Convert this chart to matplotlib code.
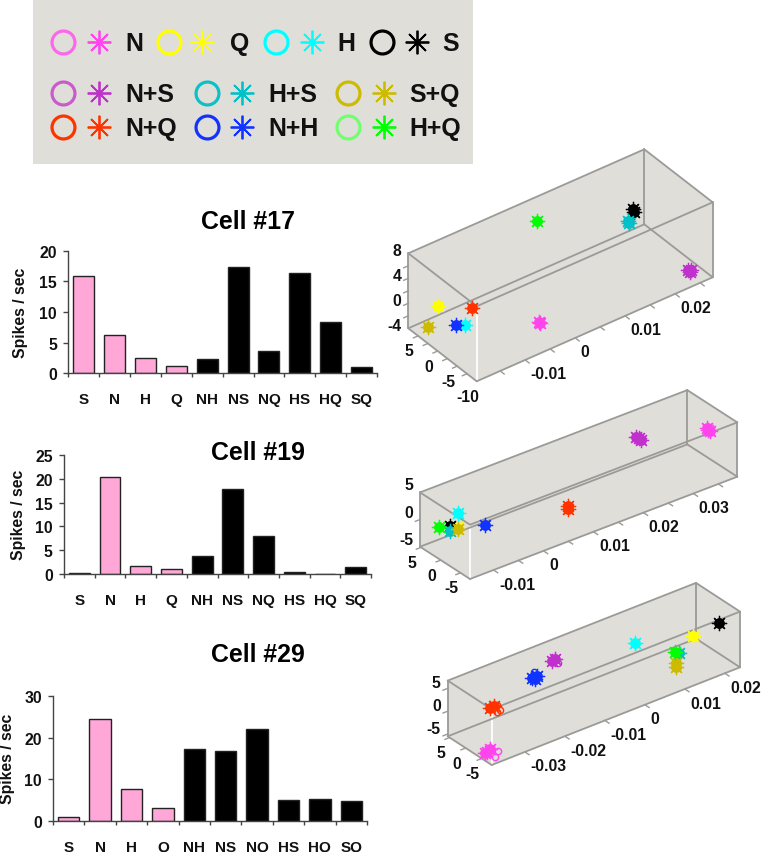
import numpy as np
import matplotlib
matplotlib.use("Agg")
import matplotlib.pyplot as plt

plt.rcParams['font.family'] = ['Liberation Sans', 'DejaVu Sans']
plt.rcParams['font.weight'] = 'bold'

W, H = 761, 853

# bar charts
categorias = ['S', 'N', 'H', 'Q', 'NH', 'NS', 'NQ', 'HS', 'HQ', 'SQ']
cell17 = [15.8, 6.3, 2.5, 1.2, 2.4, 17.3, 3.7, 16.3, 8.4, 1.0]
cell19 = [0.3, 20.3, 1.7, 1.0, 3.8, 17.9, 8.0, 0.5, 0.0, 1.5]
cell29 = [1.0, 24.6, 7.6, 3.2, 17.3, 16.8, 22.0, 5.1, 5.2, 4.9]
ticks17 = [0, 5, 10, 15, 20]
ticks19 = [0, 5, 10, 15, 20, 25]
ticks29 = [0, 10, 20, 30]

# 3D clusters, one entry per condition
conds = ['N', 'Q', 'H', 'S', 'N+S', 'H+S', 'S+Q', 'N+Q', 'N+H', 'H+Q']
x17 = [-0.0043, -0.0164, -0.0153, 0.0185, 0.0243, 0.0175, -0.0184, -0.0124, -0.0170, 0.0047]
y17 = [-6.5, 4.0, -1.25, -1.25, -8.25, -1.25, 4.0, 0.5, -1.25, 5.75]
z17 = [-1.8, 0.18, -0.73, 5.45, -2.93, 3.99, -2.49, 0.0, -0.13, 5.46]

x19 = [0.0380, -0.0110, -0.0090, -0.0127, 0.0241, -0.0127, -0.0110, 0.0100, -0.0066, -0.0139]
y19 = [-1.07, 0.2, 2.73, 0.2, -1.07, 0.2, 0.2, -1.07, -1.07, 1.46]
z19 = [0.89, -0.35, 0.39, 0.43, 4.24, -0.49, -0.6, -3.28, -0.84, 0.07]

x29 = [-0.0361, 0.0176, 0.0052, 0.0230, -0.0154, 0.0118, 0.0111, -0.0354, -0.0226, 0.0108]
y29 = [-4.0, -1.25, 1.49, -2.62, 1.49, -4.0, -4.0, -4.0, -1.25, -4.0]
z29 = [-5.2, 0.42, 1.83, 1.97, 4.88, -0.21, -2.13, 4.0, 4.96, 0.51]

# second points of the clusters that are spread out
mais17_cond = ['S', 'N+S', 'N+S', 'H+S', 'N']
mais17_x = [0.0183, 0.0240, 0.0246, 0.0173, -0.0045]
mais17_y = [-1.25, -8.25, -8.25, -1.25, -6.5]
mais17_z = [5.9, -2.4, -2.6, 4.3, -1.5]

mais19_cond = ['N', 'N', 'N+S', 'N+S', 'N+Q']
mais19_x = [0.0378, 0.0383, 0.0236, 0.0246, 0.0100]
mais19_y = [-1.07, -1.07, -1.07, -1.07, -1.07]
mais19_z = [1.3, 0.6, 4.6, 3.8, -3.7]

mais29_cond = ['N', 'N', 'N+Q', 'N+H', 'N+H', 'N+S', 'S+Q']
mais29_x = [-0.0355, -0.0366, -0.0345, -0.0220, -0.0214, -0.0148, 0.0111]
mais29_y = [-4.0, -4.0, -4.0, -1.25, -1.25, 1.49, -4.0]
mais29_z = [-4.9, -5.4, 4.2, 4.5, 5.1, 5.2, -2.9]

# isolated open circles in cell 29
extra_cond = ['N', 'N', 'N+Q', 'N+Q', 'N+Q', 'N+H', 'N+S']
extra_x = [-0.0344, -0.0364, -0.0336, -0.0337, -0.0329, -0.0222, -0.0139]
extra_y = [-5.36, -6.73, -4.0, -4.0, -4.0, -1.25, 1.49]
extra_z = [-5.1, -5.1, 4.2, 2.58, 2.82, 6.13, 4.05]

cor = {'N': '#FF44EE', 'Q': '#FFFF00', 'H': '#00FFFF', 'S': '#000000',
       'N+S': '#C030CC', 'H+S': '#00C0C8', 'S+Q': '#CCBB00',
       'N+Q': '#FF3300', 'N+H': '#1133FF', 'H+Q': '#00FF00'}
cor_circ = dict(cor)
cor_circ.update({'N': '#FF66EE', 'N+S': '#C95CCB', 'H+S': '#10BFC5', 'H+Q': '#70FF70'})

CINZA = '#E0DED8'
LINHA = '#9A9A98'
TEXTO = '#111111'

fig = plt.figure(figsize=(W / 100, H / 100), dpi=100)
bg = fig.add_axes([0, 0, 1, 1])
bg.set_xlim(0, W)
bg.set_ylim(H, 0)
bg.axis('off')


# legend box
bg.fill([33, 473, 473, 33], [0, 0, 165, 165], color=CINZA, lw=0)


def item(cond, xc, xs, xt, y):
    bg.plot(xc, y, 'o', ms=16.5, mfc='none', mec=cor_circ[cond], mew=2.3)
    bg.plot(xs, y, marker=(8, 2, 0), ms=17, mec=cor[cond], mew=1.3, ls='')
    bg.text(xt, y + 1, cond, fontsize=17.9, color=TEXTO, va='center', ha='left')


item('N', 63, 99, 125, 43)
item('Q', 169, 202, 230, 43)
item('H', 276, 312, 337, 43)
item('S', 382, 417, 442, 43)
item('N+S', 63, 99, 125, 94)
item('H+S', 207, 242, 268, 94)
item('S+Q', 348, 384, 409, 94)
item('N+Q', 63, 99, 125, 128)
item('N+H', 207, 242, 268, 128)
item('H+Q', 348, 384, 409, 128)


def barras(vals, yticks, x0, x1, ytop, ybot, titulo, tx, ty, lx, ly):
    ax = fig.add_axes([x0 / W, 1 - ybot / H, (x1 - x0) / W, (ybot - ytop) / H])
    ax.patch.set_alpha(0)
    pos = np.arange(len(vals))
    cores = ['#FFA8D8'] * 4 + ['#000000'] * 6
    ax.bar(pos, vals, width=0.68, color=cores, edgecolor='#222222', linewidth=1)
    ax.set_xlim(-0.5, 9.5)
    ax.set_ylim(yticks[0], yticks[-1])
    ax.set_yticks(yticks)
    ax.set_xticks(np.arange(-0.5, 10, 1))
    ax.set_xticklabels([])
    ax.set_xticks(pos, minor=True)
    ax.set_xticklabels(categorias, minor=True)
    ax.tick_params(axis='x', which='minor', length=0, pad=13.5, labelsize=11, labelcolor=TEXTO)
    ax.tick_params(axis='x', which='major', length=3, width=1, color='#444444')
    ax.tick_params(axis='y', length=3.6, width=1, color='#444444', pad=4.5, labelsize=11.3, labelcolor=TEXTO)
    for s in ['top', 'right']:
        ax.spines[s].set_visible(False)
    for s in ['left', 'bottom']:
        ax.spines[s].set_color('#444444')
        ax.spines[s].set_linewidth(1)
    bg.text(tx, ty, titulo, fontsize=17.9, color='black', ha='center', va='center')
    bg.text(lx, ly, 'Spikes / sec', fontsize=11.3, color=TEXTO, rotation=90, ha='center', va='center')


barras(cell17, ticks17, 68.3, 377, 251.7, 374.3, 'Cell #17', 248, 222, 20.7, 313)
barras(cell19, ticks19, 64, 371, 456, 575, 'Cell #19', 258, 453, 19, 515)
barras(cell29, ticks29, 53, 367, 697, 822, 'Cell #29', 258, 655, 7.3, 759)


def caixa(near, xv, yv, zv, xr, yr, zr, xt, xl, yt, yl, zt, zl, pts, mais, zdy):
    near, xv, yv, zv = [np.array(v, float) for v in (near, xv, yv, zv)]

    def proj(a, b, c):
        return (near + (a - xr[0]) / (xr[1] - xr[0]) * xv
                + (b - yr[0]) / (yr[1] - yr[0]) * yv
                + (c - zr[0]) / (zr[1] - zr[0]) * zv)

    def seg(p, q, **kw):
        bg.plot([p[0], q[0]], [p[1], q[1]], **kw)

    o = near
    cantos = [o, o + xv, o + xv + zv, o + xv + yv + zv, o + yv + zv, o + yv]
    bg.fill([c[0] for c in cantos], [c[1] for c in cantos], color=CINZA, lw=0)
    seg(o, o + zv, color='white', lw=1.3)
    arestas = [(o, o + xv), (o + xv, o + xv + zv), (o + xv + zv, o + zv),
               (o + xv + zv, o + xv + yv + zv), (o + xv + yv + zv, o + yv + zv),
               (o + yv + zv, o + zv), (o + yv + zv, o + yv), (o + yv, o),
               (o + yv, o + yv + xv), (o + yv + xv, o + xv),
               (o + yv + xv, o + xv + yv + zv)]
    for p, q in arestas:
        seg(p, q, color=LINHA, lw=1.3, solid_capstyle='round')

    dx = xv / np.linalg.norm(xv)
    dy = yv / np.linalg.norm(yv)
    for t in xt:
        p = proj(t, yr[0], zr[0])
        seg(p, p - dy * 5, color=LINHA, lw=1)
    for t in xl:
        p = proj(t, yr[0], zr[0])
        bg.text(p[0] + 5.5, p[1] + 14, f'{t:g}', fontsize=11.3, color=TEXTO, ha='left', va='center')
    for t in yt:
        p = proj(xr[0], t, zr[0])
        seg(p, p - dx * 5, color=LINHA, lw=1)
    for t in yl:
        p = proj(xr[0], t, zr[0])
        bg.text(p[0] - 9, p[1] + 15, f'{t:g}', fontsize=11.3, color=TEXTO, ha='center', va='center')
    for t in zt:
        p = proj(xr[0], yr[1], t)
        seg(p, p - dx * 5, color=LINHA, lw=1)
    for t in zl:
        p = proj(xr[0], yr[1], t)
        bg.text(p[0] - 7, p[1] - zdy, f'{t:g}', fontsize=11.3, color=TEXTO, ha='right', va='center')

    for c, a, b, d in list(zip(conds, *pts)) + list(zip(*mais)):
        p = proj(a, b, d)
        bg.plot(p[0], p[1], 'o', ms=7.8, color=cor[c], mew=0, zorder=5)
        bg.plot(p[0], p[1], marker=(8, 2, 0), ms=11, mec=cor[c], mew=0.9, ls='', zorder=5)
    return proj


caixa((476.7, 382.3), (236, -104), (-68.4, -53), (0, -75),
      (-0.0197, 0.0275), (-10, 7.5), (-4, 8),
      [-0.015, -0.01, -0.005, 0, 0.005, 0.01, 0.015, 0.02, 0.025], [-0.01, 0, 0.01, 0.02],
      [-7.5, -5, -2.5, 0, 2.5, 5], [-10, -5, 0, 5],
      [-2, 0, 2, 4, 6], [-4, 0, 4, 8], (x17, y17, z17),
      (mais17_cond, mais17_x, mais17_y, mais17_z), 3)

caixa((470, 580), (267.3, -102.3), (-50, -32.3), (0, -54.3),
      (-0.0147, 0.0388), (-7.4, 5.26), (-5, 5),
      [-0.01, -0.005, 0, 0.005, 0.01, 0.015, 0.02, 0.025, 0.03, 0.035], [-0.01, 0, 0.01, 0.02, 0.03],
      [-5, 0, 5], [-5, 0, 5],
      [0], [-5, 0, 5], (x19, y19, z19),
      (mais19_cond, mais19_x, mais19_y, mais19_z), 7.5)

proj29 = caixa((491.7, 766), (248.3, -97.7), (-44, -28.7), (0, -55.7),
               (-0.0383, 0.0238), (-8.1, 5.6), (-5.5, 6.7),
               [-0.03, -0.02, -0.01, 0, 0.01, 0.02], [-0.03, -0.02, -0.01, 0, 0.01, 0.02],
               [-5, 0, 5], [-5, 0, 5],
               [-5, 0, 5], [-5, 0, 5], (x29, y29, z29),
               (mais29_cond, mais29_x, mais29_y, mais29_z), 6)

for c, a, b, d in zip(extra_cond, extra_x, extra_y, extra_z):
    p = proj29(a, b, d)
    bg.plot(p[0], p[1], 'o', ms=4.5, mfc='none', mec=cor[c], mew=1, zorder=6)

fig.savefig('out.png', dpi=100)
